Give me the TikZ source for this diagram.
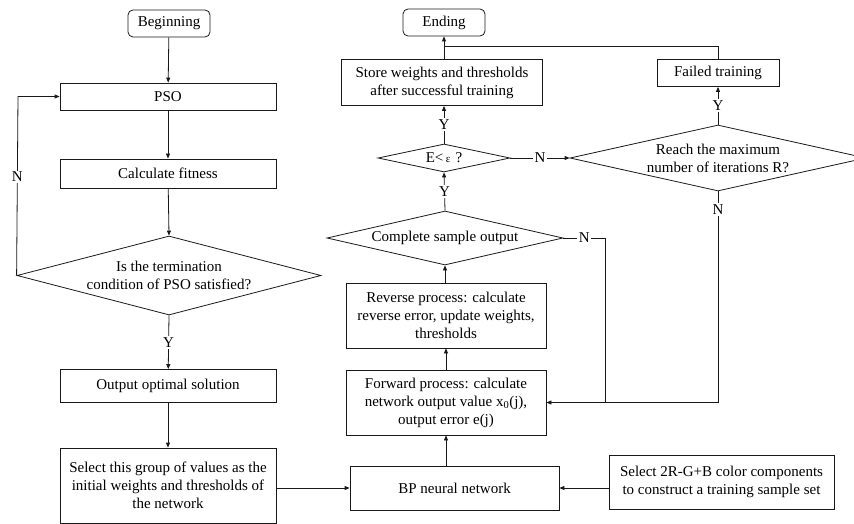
\documentclass[tikz,border=0pt]{standalone}
\usepackage{fontspec}
\setmainfont{Liberation Serif}
\usetikzlibrary{arrows.meta,shapes.geometric}
\newcommand{\zw}[1]{\makebox[0pt]{#1}}
\begin{document}
\begin{tikzpicture}[x=1pt,y=-1pt,
  every node/.style={font=\fontsize{15}{18}\selectfont, text=black},
  line/.style={draw=black!90, line width=0.8pt},
  arr/.style={line, -{Triangle[length=5pt,width=4pt]}},
  box/.style={line, rectangle, inner sep=0pt, align=center},
  term/.style={box, rounded corners=5pt},
  dia/.style={line, diamond, inner sep=0pt, align=center},
  lab/.style={fill=white, inner sep=1.5pt}]
\useasboundingbox (0,0) rectangle (854,524);
% left column
\node[term, minimum width=82pt, minimum height=27pt] (beg) at (169,23.5) {Beginning};
\node[box, minimum width=216pt, minimum height=27pt] (pso) at (168,96.5) {PSO};
\node[box, minimum width=216pt, minimum height=29pt] (fit) at (168,173.5) {Calculate fitness};
\node[dia, minimum width=304pt, minimum height=79pt] (d1) at (169,275.5) {\zw{Is the termination}\\\zw{condition of PSO satisfied?}};
\node[box, minimum width=216pt, minimum height=33pt] (opt) at (168,386) {Output optimal solution};
\node[box, minimum width=216pt, minimum height=75pt] (sel) at (168,485.5) {Select this group of values as the\\initial weights and thresholds of\\the network};
% middle column
\node[term, minimum width=82pt, minimum height=27pt] (end) at (444,22.5) {Ending};
\node[box, minimum width=201pt, minimum height=46pt] (store) at (442,82.5) {Store weights and thresholds\\after successful training};
\node[dia, minimum width=132pt, minimum height=28pt] (de) at (444,158) {\zw{E<\,{\fontsize{11}{13}\selectfont ε}\,\,?}};
\node[dia, minimum width=236pt, minimum height=54pt] (dc) at (445,238) {\zw{Complete sample output}};
\node[box, minimum width=200pt, minimum height=65pt] (rev) at (446,315.5) {Reverse process: calculate\\reverse error, update weights,\\thresholds};
\node[box, minimum width=200pt, minimum height=65pt] (fwd) at (446,402.5) {Forward process: calculate\\network output value x\textsubscript{0}(j),\\output error e(j)};
\node[box, minimum width=209pt, minimum height=44pt] (bp) at (454.5,488) {BP neural network};
% right column
\node[box, minimum width=122pt, minimum height=27pt] (fail) at (718,73) {Failed training};
\node[dia, minimum width=296pt, minimum height=66pt] (dr) at (718,158) {\zw{Reach the maximum}\\\zw{number of iterations R?}};
\node[box, minimum width=225pt, minimum height=54pt] (rgb) at (721.5,482) {Select 2R-G+B color components\\to construct a training sample set};
\coordinate (jn) at (444,46.7);
\coordinate (nl) at (18,96.5);
\coordinate (cn) at (605,238);
% connectors
\draw[arr] (beg) -- (pso);
\draw[arr] (pso) -- (fit);
\draw[arr] (fit) -- (d1.north);
\draw[arr] (d1.south) -- node[lab] {Y} (opt);
\draw[arr] (d1.west) -- node[lab, pos=0.55] {N} (nl) -- (pso.west);
\draw[arr] (opt) -- (sel);
\draw[arr] (sel.east |- bp.west) -- (bp.west);
\draw[arr] (rgb.west |- bp.east) -- (bp.east);
\draw[arr] (fwd.south |- bp.north) -- (fwd.south);
\draw[arr] (fwd) -- (rev);
\draw[arr] (rev.north -| dc.south) -- (dc.south);
\draw[arr] (dc.north) -- node[lab] {Y} (de.south);
\draw[arr] (de.north) -- node[lab] {Y} (store.south -| de.north);
\draw[arr] (store.north -| end.south) -- (end.south);
\draw[arr] (de.east) -- node[lab] {N} (dr.west);
\draw[arr] (dr.north) -- node[lab] {Y} (fail.south);
\draw[line] (fail.north) |- (jn);
\draw[arr] (dr.south) -- node[lab, pos=0.085] {N} (dr.south |- fwd.east) -- (fwd.east);
\draw[line] (dc.east) -- node[lab] {N} (cn) -- (cn |- fwd.east);
\end{tikzpicture}
\end{document}
